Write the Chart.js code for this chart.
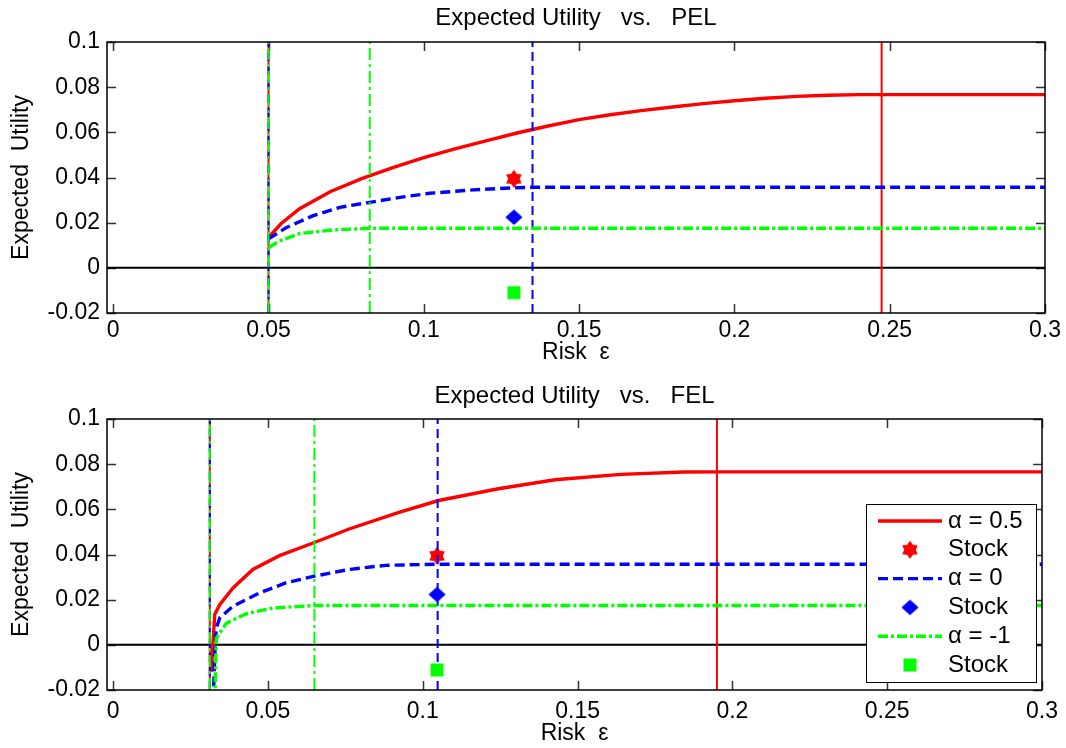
<!DOCTYPE html>
<html><head><meta charset="utf-8">
<script src="https://cdn.jsdelivr.net/npm/chart.js@4.4.1/dist/chart.umd.min.js"></script>
<style>
html,body{margin:0;padding:0;background:#fff;overflow:hidden}
#wrap{position:relative;width:1066px;height:748px;background:#fff}
.box{position:absolute;left:0;width:1066px;height:374px}
</style></head><body>
<div id="wrap">
<div class="box" style="top:0"><canvas id="c1" width="1066" height="374"></canvas></div>
<div class="box" style="top:374px"><canvas id="c2" width="1066" height="374"></canvas></div>
</div>
<script>
// ---- tick labels ----
const xTicks = [0, 0.05, 0.1, 0.15, 0.2, 0.25, 0.3];
const yTicks = [-0.02, 0, 0.02, 0.04, 0.06, 0.08, 0.1];

// ---- PEL (top panel) ----
const pelA05X = [0.05, 0.054, 0.06, 0.07, 0.08, 0.09, 0.10, 0.11, 0.12, 0.13, 0.14, 0.15, 0.16, 0.17, 0.18, 0.19, 0.20, 0.21, 0.22, 0.23, 0.24, 0.2474, 0.3];
const pelA05Y = [0.0135, 0.0195, 0.0262, 0.0338, 0.0395, 0.0444, 0.0488, 0.0527, 0.0562, 0.0597, 0.0628, 0.0656, 0.0678, 0.0696, 0.0712, 0.0727, 0.0740, 0.0751, 0.0759, 0.0764, 0.0767, 0.0767, 0.0767];
const pelA0X = [0.05, 0.0558, 0.0644, 0.073, 0.0826, 0.0923, 0.1019, 0.1158, 0.1287, 0.135, 0.3];
const pelA0Y = [0.0128, 0.0179, 0.0231, 0.0268, 0.0290, 0.0312, 0.0330, 0.0345, 0.0354, 0.0357, 0.0357];
const pelAm1X = [0.05, 0.0537, 0.0601, 0.0708, 0.0826, 0.3];
const pelAm1Y = [0.0090, 0.0120, 0.0152, 0.0168, 0.0175, 0.0175];
const pelStartX = 0.05;
const pelLimitX = [0.2474, 0.135, 0.0826];   // alpha = 0.5, 0, -1
const pelStockX = 0.129;
const pelStockY = [0.0394, 0.0224, -0.0110];  // alpha = 0.5, 0, -1

// ---- FEL (bottom panel) ----
const felA05X = [0.0317, 0.0322, 0.0328, 0.0344, 0.0387, 0.0451, 0.0537, 0.065, 0.0762, 0.0923, 0.1051, 0.1244, 0.1427, 0.164, 0.1844, 0.195, 0.3];
const felA05Y = [-0.012, 0.000, 0.0134, 0.0178, 0.0252, 0.0334, 0.0395, 0.0453, 0.0513, 0.0587, 0.0639, 0.0691, 0.0731, 0.0755, 0.0765, 0.0766, 0.0766];
const felA0X = [0.0323, 0.0328, 0.0333, 0.0344, 0.0387, 0.0473, 0.0559, 0.065, 0.0762, 0.088, 0.1048, 0.3];
const felA0Y = [-0.025, -0.005, 0.0074, 0.0119, 0.0171, 0.0230, 0.0275, 0.0304, 0.0334, 0.0352, 0.0357, 0.0357];
const felAm1X = [0.0328, 0.0333, 0.0366, 0.043, 0.0515, 0.065, 0.3];
const felAm1Y = [-0.025, 0.0029, 0.0096, 0.0138, 0.0163, 0.0174, 0.0174];
const felStartX = 0.0312;
const felLimitX = [0.195, 0.1048, 0.065];
const felStockX = 0.1046;
const felStockY = [0.0394, 0.0223, -0.0111];

const legendLabels = ['\u03b1 = 0.5', 'Stock', '\u03b1 = 0', 'Stock', '\u03b1 = -1', 'Stock'];

// ---- styles ----
const RED = '#ff0000', BLUE = '#0000ff', GREEN = '#00ff00';
const FONT = '"Liberation Sans", Arial, Helvetica, sans-serif';
const X_MIN = -0.002, X_MAX = 0.3, Y_MIN = -0.02, Y_MAX = 0.1;

function mkMarker(kind, color) {
  const c = document.createElement('canvas');
  c.width = 20; c.height = 20;
  const g = c.getContext('2d');
  g.fillStyle = color;
  g.beginPath();
  const cx = 10, cy = 10;
  if (kind === 'hex') {
    const R = 9, r = 5.8;
    for (let i = 0; i < 12; i++) {
      const a = -Math.PI / 2 + i * Math.PI / 6;
      const rr = i % 2 === 0 ? R : r;
      const px = cx + rr * Math.cos(a), py = cy + rr * Math.sin(a);
      i === 0 ? g.moveTo(px, py) : g.lineTo(px, py);
    }
  } else if (kind === 'diamond') {
    g.moveTo(cx, cy - 7.8); g.lineTo(cx + 8.6, cy); g.lineTo(cx, cy + 7.8); g.lineTo(cx - 8.6, cy);
  } else {
    g.rect(cx - 6.5, cy - 6.5, 13, 13);
  }
  g.closePath();
  g.fill();
  return c;
}
const markers = [mkMarker('hex', RED), mkMarker('diamond', BLUE), mkMarker('square', GREEN)];

const lineStyles = [
  {color: RED, dash: [], width: 3.4},
  {color: BLUE, dash: [10, 5], width: 3.4},
  {color: GREEN, dash: [10, 3, 3, 3], width: 3.4}
];
const vStyles = [
  {color: RED, dash: [], width: 2},
  {color: BLUE, dash: [9, 5], width: 2},
  {color: GREEN, dash: [12, 4, 3, 4], width: 2}
];

function pts(xs, ys) { return xs.map((x, i) => ({x: x, y: ys[i]})); }
function vline(x) { return [{x: x, y: Y_MIN}, {x: x, y: Y_MAX}]; }

function buildDatasets(curves, startX, limitX, stockX, stockY) {
  const ds = [];
  let order = 100;
  ds.push({data: [{x: X_MIN, y: 0}, {x: X_MAX, y: 0}], borderColor: '#000', borderWidth: 2, pointRadius: 0, order: order--});
  for (let k = 0; k < 3; k++) {
    const ls = lineStyles[k], vs = vStyles[k];
    ds.push({data: pts(curves[k][0], curves[k][1]), borderColor: ls.color, borderDash: ls.dash, borderWidth: ls.width, pointRadius: 0, order: order--});
    ds.push({data: [{x: stockX, y: stockY[k]}], showLine: false, pointStyle: markers[k], pointRadius: 8, order: order--});
    ds.push({data: vline(startX), borderColor: vs.color, borderDash: vs.dash, borderWidth: vs.width, pointRadius: 0, order: order--});
    ds.push({data: vline(limitX[k]), borderColor: vs.color, borderDash: vs.dash, borderWidth: vs.width, pointRadius: 0, order: order--});
  }
  ds.forEach(d => { d.tension = 0; d.clip = 0; d.fill = false; d.pointHoverRadius = 0; });
  return ds;
}

function fmt(v) { return String(+Number(v).toFixed(3)); }

const framePlugin = {
  id: 'frame',
  beforeDatasetsDraw(chart) {
    const ctx = chart.ctx;
    const {left, right, top, bottom} = chart.chartArea;
    const xs = chart.scales.x, ys = chart.scales.y;
    ctx.save();
    ctx.strokeStyle = '#333';
    ctx.lineWidth = 1.5;
    ctx.beginPath();
    xTicks.forEach(v => {
      const p = Math.round(xs.getPixelForValue(v)) + 0.5;
      ctx.moveTo(p, bottom); ctx.lineTo(p, bottom - 9);
      ctx.moveTo(p, top); ctx.lineTo(p, top + 9);
    });
    yTicks.forEach(v => {
      const p = Math.round(ys.getPixelForValue(v)) + 0.5;
      ctx.moveTo(left, p); ctx.lineTo(left + 9, p);
      ctx.moveTo(right, p); ctx.lineTo(right - 9, p);
    });
    ctx.stroke();
    ctx.restore();
  },
  afterDraw(chart, args, o) {
    const ctx = chart.ctx;
    const {left, right, top, bottom} = chart.chartArea;
    ctx.save();
    ctx.strokeStyle = '#000';
    ctx.lineWidth = 1.5;
    ctx.strokeRect(left, top, right - left, bottom - top);
    ctx.fillStyle = '#000';
    ctx.textAlign = 'center';
    ctx.textBaseline = 'middle';
    const cx = (left + right) / 2;
    ctx.font = '24px ' + FONT;
    ctx.fillText(o.title, cx, o.titleY);
    ctx.font = '23px ' + FONT;
    ctx.fillText(o.xlabel, cx, o.xlabelY);
    ctx.save();
    ctx.translate(o.ylabelX, (top + bottom) / 2);
    ctx.rotate(-Math.PI / 2);
    ctx.fillText(o.ylabel, 0, 0);
    ctx.restore();
    if (o.legend) {
      const L = o.legend;
      ctx.fillStyle = '#fff';
      ctx.fillRect(L.x, L.y, L.w, L.h);
      ctx.strokeStyle = '#000';
      ctx.lineWidth = 1;
      ctx.strokeRect(L.x + 0.5, L.y + 0.5, L.w, L.h);
      ctx.font = '24px ' + FONT;
      for (let i = 0; i < legendLabels.length; i++) {
        const ry = L.y + L.first + i * L.step;
        const k = Math.floor(i / 2);
        if (i % 2 === 0) {
          const ls = lineStyles[k];
          ctx.save();
          ctx.strokeStyle = ls.color; ctx.lineWidth = ls.width; ctx.setLineDash(ls.dash);
          ctx.beginPath(); ctx.moveTo(L.x + 12, ry); ctx.lineTo(L.x + 76, ry); ctx.stroke();
          ctx.restore();
        } else {
          const m = markers[k];
          ctx.drawImage(m, L.x + 44 - m.width / 2, ry - m.height / 2);
        }
        ctx.fillStyle = '#000';
        ctx.textAlign = 'left';
        ctx.fillText(legendLabels[i], L.x + 82, ry);
      }
    }
    ctx.restore();
  }
};

function makeChart(id, curves, startX, limitX, stockX, stockY, frameOpts, pad) {
  return new Chart(document.getElementById(id), {
    type: 'line',
    data: {datasets: buildDatasets(curves, startX, limitX, stockX, stockY)},
    options: {
      responsive: false, animation: false, devicePixelRatio: 1,
      layout: {padding: {top: pad.top, right: 21, left: 0, bottom: 0}},
      plugins: {legend: {display: false}, title: {display: false}, tooltip: {enabled: false}, frame: frameOpts},
      events: [],
      scales: {
        x: {
          type: 'linear', min: X_MIN, max: X_MAX,
          afterBuildTicks: s => { s.ticks = xTicks.map(v => ({value: v})); },
          afterFit: s => { s.height = pad.xh; },
          grid: {display: false, drawTicks: false}, border: {display: false},
          ticks: {padding: pad.xp, color: '#000', font: {family: FONT, size: 23}, maxRotation: 0, autoSkip: false, callback: v => fmt(v)}
        },
        y: {
          type: 'linear', min: Y_MIN, max: Y_MAX,
          afterBuildTicks: s => { s.ticks = yTicks.map(v => ({value: v})); },
          afterFit: s => { s.width = 107; },
          grid: {display: false, drawTicks: false}, border: {display: false},
          ticks: {padding: 7, color: '#000', font: {family: FONT, size: 23}, autoSkip: false, callback: v => fmt(v)}
        }
      }
    },
    plugins: [framePlugin]
  });
}

makeChart('c1', [[pelA05X, pelA05Y], [pelA0X, pelA0Y], [pelAm1X, pelAm1Y]], pelStartX, pelLimitX, pelStockX, pelStockY,
  {title: 'Expected Utility   vs.   PEL', titleY: 18, xlabel: 'Risk  \u03b5', xlabelY: 353, ylabel: 'Expected  Utility', ylabelX: 22},
  {top: 42, xh: 374 - 313, xp: 4});
makeChart('c2', [[felA05X, felA05Y], [felA0X, felA0Y], [felAm1X, felAm1Y]], felStartX, felLimitX, felStockX, felStockY,
  {title: 'Expected Utility   vs.   FEL', titleY: 22, xlabel: 'Risk  \u03b5', xlabelY: 360, ylabel: 'Expected  Utility', ylabelX: 22,
   legend: {x: 866, y: 130, w: 170, h: 178, first: 17, step: 28.8}},
  {top: 45, xh: 374 - 316, xp: 8});
</script>
</body></html>
